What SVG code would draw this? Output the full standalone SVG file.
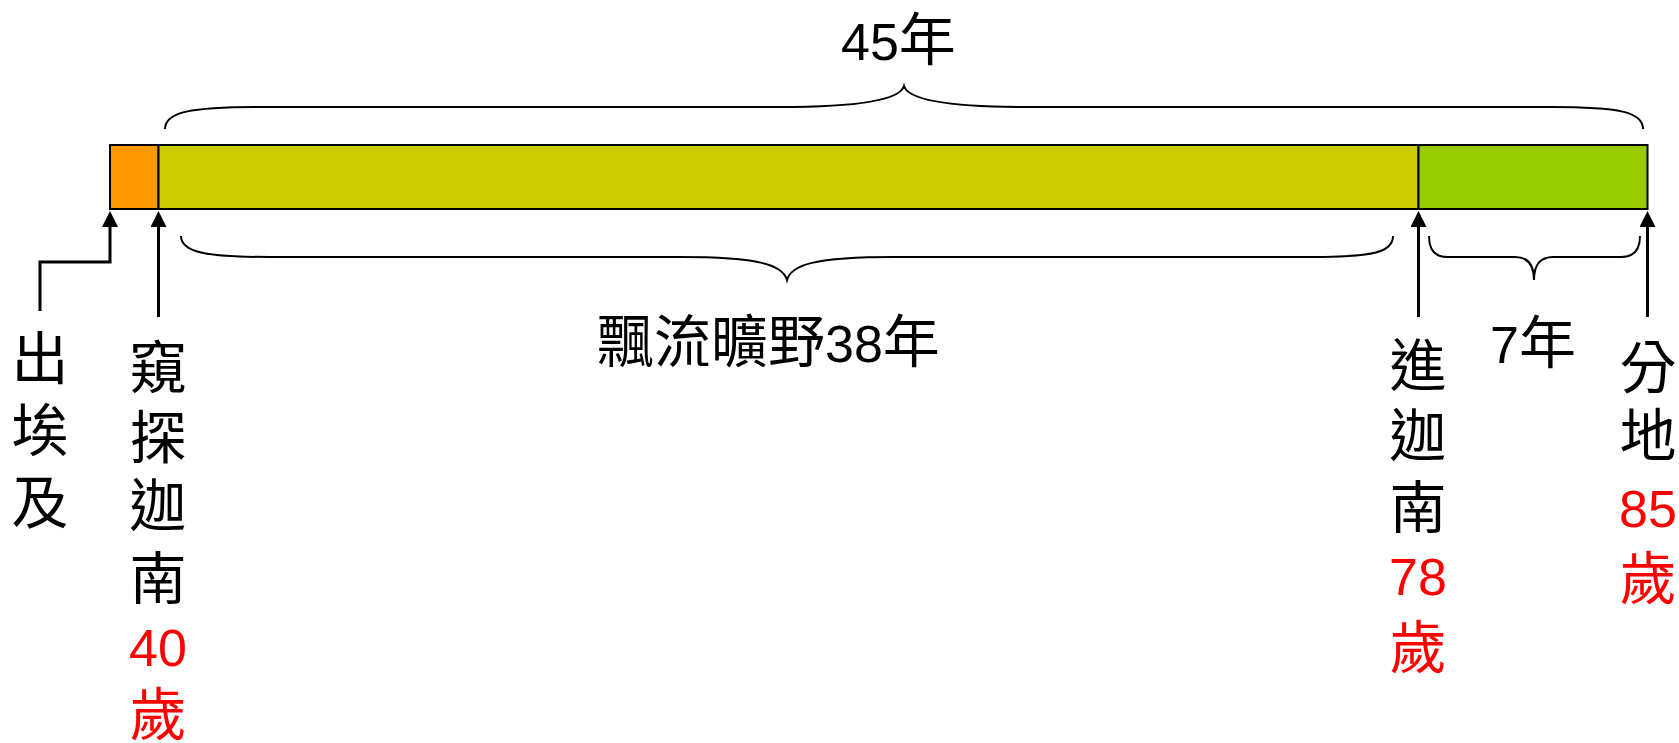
<svg xmlns="http://www.w3.org/2000/svg" width="1679" height="743" viewBox="0 0 1679 743">
<defs>
<style>
.seg{stroke:#000;stroke-width:2}
.brace{fill:none;stroke:#000;stroke-width:2}
.conn{fill:none;stroke:#000;stroke-width:3}
.cjk{font-family:"Noto Sans CJK TC","Noto Sans CJK SC",sans-serif;font-size:57px;fill:#000}
.num{font-family:"Liberation Sans",Arial,sans-serif;font-size:52px;fill:#000}
.red{fill:#FF0000}
</style>
<marker id="ah" markerUnits="userSpaceOnUse" viewBox="0 0 16 16" refX="12" refY="8" markerWidth="16" markerHeight="16" orient="auto">
<path d="M0,0 L16,8 L0,16 z" fill="#000"/>
</marker>
</defs>
<rect width="1679" height="743" fill="#fff"/>
<g id="bar">
<rect id="seg-egypt" class="seg" x="110" y="145" width="48.5" height="64" fill="#FF9900"/>
<rect id="seg-wild" class="seg" x="158.5" y="145" width="1260" height="64" fill="#CCCC00"/>
<rect id="seg-canaan" class="seg" x="1418.5" y="145" width="229" height="64" fill="#99CC00"/>
</g>
<g id="braces">
<path id="brace-45" class="brace" d="M165,129 C165,112 190,107 260,107 L780,107 C860,107 900,100 904,86 C908,100 948,107 1028,107 L1550,107 C1620,107 1643,112 1643,129"/>
<path id="brace-38" class="brace" d="M181,236 C181,252 205,257 270,257 L680,257 C760,257 783,265 787,280 C791,265 814,257 894,257 L1310,257 C1375,257 1393,252 1393,236"/>
<path id="brace-7" class="brace" d="M1429,236 C1429,250 1435,257 1447,257 L1515,257 C1528,257 1534,265 1534,280 C1534,265 1540,257 1553,257 L1621,257 C1633,257 1640,250 1640,236"/>
</g>
<g id="connectors">
<path class="conn" d="M40,311 L40,262 L110,262 L110,215" marker-end="url(#ah)"/>
<path class="conn" d="M158.5,317 L158.5,215" marker-end="url(#ah)"/>
<path class="conn" d="M1418.5,317 L1418.5,215" marker-end="url(#ah)"/>
<path class="conn" d="M1647.5,317 L1647.5,215" marker-end="url(#ah)"/>
</g>
<g id="label-45">
<text y="60"><tspan class="num" x="841">45</tspan><tspan class="cjk">年</tspan></text>
</g>
<g id="label-38">
<text y="362"><tspan class="cjk" x="597">飄流曠野</tspan><tspan class="num">38</tspan><tspan class="cjk">年</tspan></text>
</g>
<g id="label-7">
<text y="363"><tspan class="num" x="1490">7</tspan><tspan class="cjk">年</tspan></text>
</g>
<g id="label-egypt" text-anchor="middle">
<text class="cjk" x="40" y="379">出</text>
<text class="cjk" x="40" y="451">埃</text>
<text class="cjk" x="40" y="523">及</text>
</g>
<g id="label-spy" text-anchor="middle">
<text class="cjk" x="158" y="388">窺</text>
<text class="cjk" x="158" y="458">探</text>
<text class="cjk" x="158" y="526">迦</text>
<text class="cjk" x="158" y="599">南</text>
<text class="num red" x="158" y="666">40</text>
<text class="cjk red" x="158" y="735">歲</text>
</g>
<g id="label-enter" text-anchor="middle">
<text class="cjk" x="1418" y="386">進</text>
<text class="cjk" x="1418" y="456">迦</text>
<text class="cjk" x="1418" y="528">南</text>
<text class="num red" x="1418" y="595">78</text>
<text class="cjk red" x="1418" y="668">歲</text>
</g>
<g id="label-divide" text-anchor="middle">
<text class="cjk" x="1648" y="388">分</text>
<text class="cjk" x="1648" y="456">地</text>
<text class="num red" x="1648" y="527">85</text>
<text class="cjk red" x="1648" y="599">歲</text>
</g>
</svg>
